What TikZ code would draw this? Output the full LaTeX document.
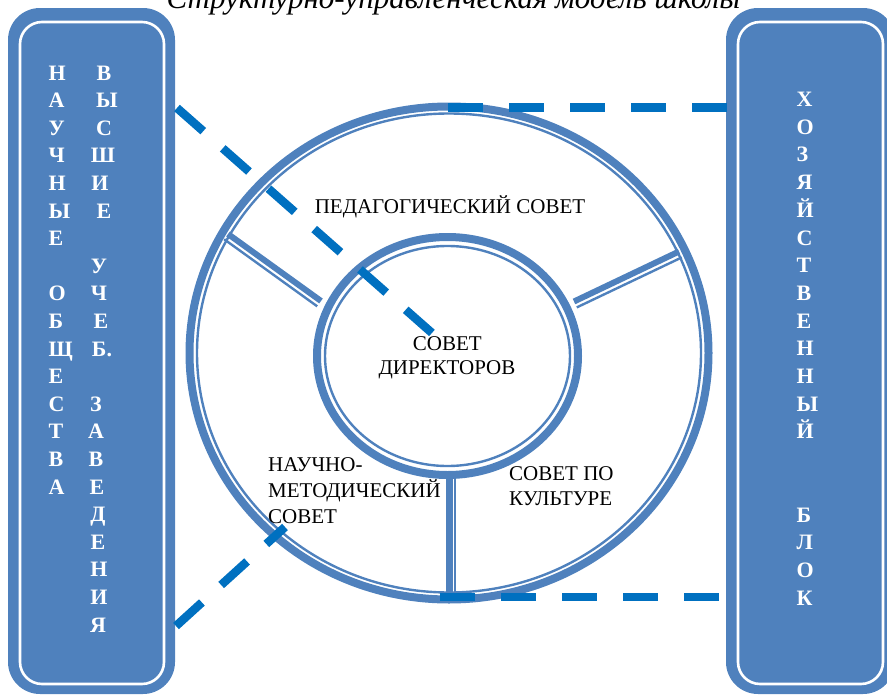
\documentclass[tikz,border=0pt]{standalone}
\usepackage{fontspec}
\setmainfont{Liberation Serif}
\definecolor{boxblue}{HTML}{4F81BD}
\definecolor{dashblue}{HTML}{0070C0}
\tikzset{
  panel/.style={fill=boxblue, draw=none, rounded corners=32pt, inner sep=0pt},
  panelline/.style={draw=white, line width=2.6pt, rounded corners=22pt},
  ringthick/.style={draw=boxblue, line width=8pt},
  ringthin/.style={draw=boxblue, line width=2.4pt},
  spokethick/.style={draw=boxblue, line width=6pt},
  spokethin/.style={draw=boxblue, line width=2.4pt},
  vlet/.style={text=white, font=\fontsize{22}{24}\selectfont\bfseries, inner sep=0pt},
  lbl/.style={font=\fontsize{21}{24}\selectfont, inner sep=0pt, text=black},
  link/.style={draw=dashblue, line width=8.5pt, dash pattern=on 35pt off 26pt},
}
\begin{document}
\begin{tikzpicture}[x=1pt,y=-1pt]
\useasboundingbox (0,0) rectangle (887,696);
\clip (0,0) rectangle (887,696);
\node[lbl, font=\fontsize{31}{31}\selectfont\itshape, anchor=base] (title) at (453.5,9) {Структурно-управленческая модель школы};
% side panels
\node[panel, minimum width=167pt, minimum height=686pt] (left) at (91.5,351) {};
\draw[panelline] (20,22) rectangle (164,684);
\node[panel, minimum width=169pt, minimum height=686pt] (right) at (810.5,351) {};
\draw[panelline] (738,22) rectangle (883,684);
% letters
\foreach \r/\ch in {0/Н,1/А,2/У,3/Ч,4/Н,5/Ы,6/Е,8/О,9/Б,10/Щ,11/Е,12/С,13/Т,14/В,15/А}
  \node[vlet, anchor=base west] (la\r) at (48.5,{80+27.6*\r}) {\ch};
\foreach \r/\xx/\ch in {0/104/В,1/107/Ы,2/104/С,3/103/Ш,4/100/И,5/104/Е,7/99/У,8/99/Ч,9/101/Е,10/102/Б.,12/96/З,13/96/А,14/96/В,15/97/Е,16/98/Д,17/98/Е,18/99/Н,19/99/И,20/98/Я}
  \node[vlet, anchor=base] (lb\r) at (\xx,{80+27.6*\r}) {\ch};
\foreach \r/\ch in {0/Х,1/О,2/З,3/Я,4/Й,5/С,6/Т,7/В,8/Е,9/Н,10/Н,11/Ы,12/Й,15/Б,16/Л,17/О,18/К}
  \node[vlet, anchor=base west] (rc\r) at (796.5,{106.5+27.7*\r}) {\ch};
% rings
\draw[ringthick] (449,353) ellipse [x radius=259.5pt, y radius=246.5pt];
\draw[ringthin] (449,353) ellipse [x radius=252pt, y radius=239.5pt];
\draw[ringthick] (447.5,356) ellipse [x radius=130.5pt, y radius=119pt];
\draw[ringthin] (447.5,356) ellipse [x radius=122.5pt, y radius=110pt];
% spokes
\draw[spokethick] (228,234) -- (321,301);
\draw[spokethin] (224.2,239.3) -- (317.2,306.3);
\draw[spokethick] (574,301.5) -- (679,251.5);
\draw[spokethin] (576.8,307.4) -- (681.8,257.4);
\draw[spokethick, line width=7pt] (449,478) -- (449,595);
\draw[spokethin] (455,472) -- (455,592);
% labels
\node[lbl, anchor=base] (ped) at (450,213) {ПЕДАГОГИЧЕСКИЙ СОВЕТ};
\node[lbl, anchor=base] (dir1) at (447.3,350) {СОВЕТ};
\node[lbl, anchor=base] (dir2) at (447,374.5) {ДИРЕКТОРОВ};
\node[lbl, anchor=base west] (nm1) at (268,471) {НАУЧНО-};
\node[lbl, anchor=base west] (nm2) at (268,497) {МЕТОДИЧЕСКИЙ};
\node[lbl, anchor=base west] (nm3) at (268,523) {СОВЕТ};
\node[lbl, anchor=base west] (ku1) at (509,480.5) {СОВЕТ ПО};
\node[lbl, anchor=base west] (ku2) at (509,505.5) {КУЛЬТУРЕ};
% dashed links
\coordinate (a1) at (177,108); \coordinate (a2) at (432,333);
\coordinate (b1) at (448,107.5); \coordinate (b2) at (727,107.5);
\coordinate (c1) at (176,626); \coordinate (c2) at (285,527);
\coordinate (e1) at (440,597); \coordinate (e2) at (719,597);
\draw[link] (a1) -- (a2);
\draw[link] (b1) -- (b2);
\draw[link] (c1) -- (c2);
\draw[link] (e1) -- (e2);
\end{tikzpicture}
\end{document}
